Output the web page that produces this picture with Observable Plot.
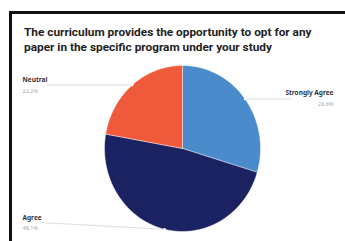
<!DOCTYPE html><html><head><meta charset="utf-8">
<script src="https://cdn.jsdelivr.net/npm/d3@7"></script>
<script src="https://cdn.jsdelivr.net/npm/@observablehq/plot@0.6"></script>
<style>
body{margin:0;background:#fff;font-family:"Liberation Sans",Arial,sans-serif;width:345px;height:241px;overflow:hidden;position:relative}
#frame{position:absolute;left:9px;top:11px;width:345px;height:240px;border-left:3px solid #111;border-top:3px solid #111;pointer-events:none}
#title{height:58px;box-sizing:border-box;padding:25px 0 0 24px;font-family:Roboto,sans-serif;font-weight:bold;font-size:11.5px;line-height:15px;color:#222;white-space:nowrap}
#title span{display:inline-block}
#chart svg{display:block}
</style></head><body>
<div id="title"><span id="l1">The curriculum provides the opportunity to opt for any</span><br><span>paper in the specific program under your study</span></div>
<div id="chart"></div><div id="frame"></div>
<script>
const categories = ["Strongly Agree", "Agree", "Neutral"];
const counts = [8, 13, 6];
const valueLabels = ["29.6%", "48.1%", "22.2%"];
const colors = ["#4a8ccb", "#1b2262", "#ef5a3a"];
const sides = ["right", "left", "left"];

// fit title first line to ~288px
const l1 = document.getElementById("l1");
const w1 = l1.getBoundingClientRect().width;
document.getElementById("title").style.fontSize = (11.5 * 288 / w1) + "px";

const W = 345, H = 183;
const cx = 182, cy = 90, rx = 78, ry = 83;
const toX = px => (px - cx) / rx;

const arcs = d3.pie().sort(null)(counts);
const slices = [];
const labels = [];
const leaders = [];
arcs.forEach((a, i) => {
  const n = 60;
  slices.push({cat: categories[i], x: 0, y: 0});
  for (let k = 0; k <= n; k++) {
    const t = a.startAngle + (a.endAngle - a.startAngle) * k / n;
    slices.push({cat: categories[i], x: Math.sin(t), y: -Math.cos(t)});
  }
  slices.push({cat: categories[i], x: 0, y: 0});
  const m = (a.startAngle + a.endAngle) / 2;
  const mx = Math.sin(m), my = -Math.cos(m);
  const right = sides[i] === "right";
  const lx = right ? toX(333) : toX(22);
  const lineEnd = right ? toX(291) : toX(i === 1 ? 41 : 46);
  const ly = i === 1 ? my - 0.08 : my;
  labels.push({cat: categories[i], value: valueLabels[i], x: lx, y: ly, anchor: right ? "end" : "start", mx, my});
  leaders.push({cat: categories[i], x1: mx, x2: lineEnd, y1: my, y2: ly});
});

const chart = Plot.plot({
  width: W, height: H,
  margin: 0,
  x: {domain: [-1, 1], range: [cx - rx, cx + rx], axis: null},
  y: {domain: [-1, 1], range: [cy - ry, cy + ry], axis: null},
  color: {domain: categories, range: colors},
  marks: [
    Plot.link(leaders, {x1: "x1", y1: "y1", x2: "x2", y2: "y2", stroke: "#d4d4d4", strokeWidth: 0.8}),
    Plot.line(slices, {x: "x", y: "y", z: "cat", fill: "cat", stroke: "#ffffff", strokeWidth: 0.6, strokeOpacity: 0.7}),
    Plot.dot(labels, {x: "mx", y: "my", r: 1.3, fill: "white", stroke: null}),
    Plot.text(labels.filter(d => d.anchor === "start"), {x: "x", y: "y", text: "cat", textAnchor: "start", dy: -5, fontSize: 6.5, fontWeight: "bold", fill: "#333"}),
    Plot.text(labels.filter(d => d.anchor === "end"), {x: "x", y: "y", text: "cat", textAnchor: "end", dy: -6, fontSize: 6.5, fontWeight: "bold", fill: "#333"}),
    Plot.text(labels.filter(d => d.anchor === "start"), {x: "x", y: "y", text: "value", textAnchor: "start", dy: 6, fontSize: 5.5, fill: "#aaa"}),
    Plot.text(labels.filter(d => d.anchor === "end"), {x: "x", y: "y", text: "value", textAnchor: "end", dy: 5, fontSize: 5.5, fill: "#aaa"})
  ]
});
document.getElementById("chart").appendChild(chart);
</script></body></html>
